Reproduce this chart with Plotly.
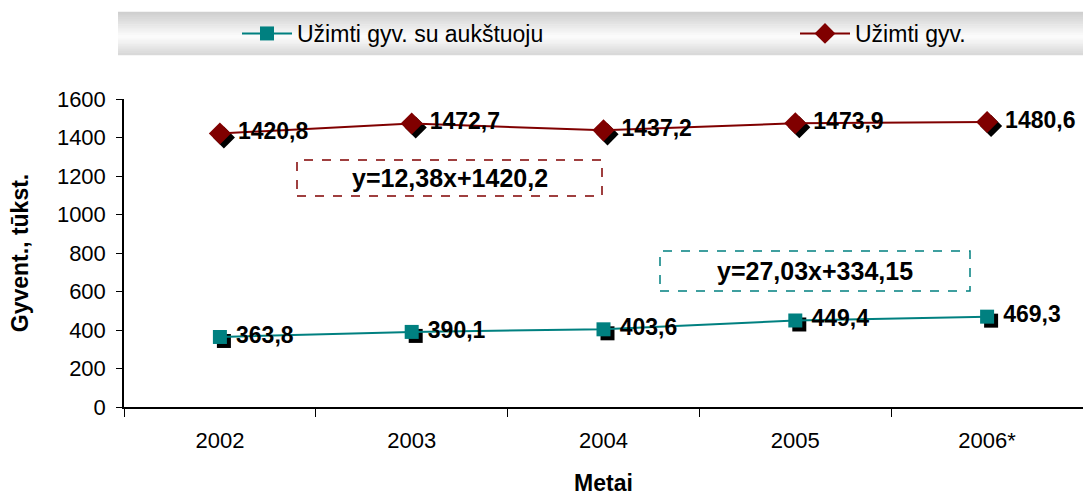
import plotly.graph_objects as go

years = ["2002", "2003", "2004", "2005", "2006*"]
grads = [363.8, 390.1, 403.6, 449.4, 469.3]
employed = [1420.8, 1472.7, 1437.2, 1473.9, 1480.6]
grads_labels = ["363,8", "390,1", "403,6", "449,4", "469,3"]
employed_labels = ["1420,8", "1472,7", "1437,2", "1473,9", "1480,6"]
name_grads = "Užimti gyv. su aukštuoju"
name_emp = "Užimti gyv."
eq_emp = "y=12,38x+1420,2"
eq_grads = "y=27,03x+334,15"
y_range = [0, 1600]

W, H = 1083, 496
ML, MR, MT, MB = 124, 0, 99, 89
PW = W - ML - MR
PH = H - MT - MB
SHX, SHY = 4, 4  # shadow offset in px
dx = SHX * len(years) / PW
dy = SHY * (y_range[1] - y_range[0]) / PH

TEAL = "#008080"
MAROON = "#800000"
FONT = "Liberation Sans, Arial, sans-serif"
PAD = "\u00a0"

def px_x(p):
    return (p - ML) / PW

def py(p):
    return (H - MB - p) / PH

fig = go.Figure()

# shadows on base (hidden) axes
fig.add_trace(go.Scatter(x=years, y=grads, mode="markers", xaxis="x", yaxis="y",
                         marker=dict(symbol="square", size=14, color="black"),
                         showlegend=False, hoverinfo="skip"))
fig.add_trace(go.Scatter(x=years, y=employed, mode="markers", xaxis="x", yaxis="y",
                         marker=dict(symbol="diamond", size=17, color="black"),
                         showlegend=False, hoverinfo="skip"))

# main series on visible overlay axes
fig.add_trace(go.Scatter(x=years, y=grads, name=name_grads, mode="lines+markers+text",
                         xaxis="x2", yaxis="y2", legend="legend",
                         line=dict(color=TEAL, width=2),
                         marker=dict(symbol="square", size=14, color=TEAL),
                         text=[PAD + t for t in grads_labels], textposition="middle right",
                         textfont=dict(family=FONT, size=23, color="black", weight="bold")))
fig.add_trace(go.Scatter(x=years, y=employed, name=name_emp, mode="lines+markers+text",
                         xaxis="x2", yaxis="y2", legend="legend2",
                         line=dict(color=MAROON, width=2),
                         marker=dict(symbol="diamond", size=17, color=MAROON),
                         text=[PAD + t for t in employed_labels], textposition="middle right",
                         textfont=dict(family=FONT, size=23, color="black", weight="bold")))

# legend gradient background (stacked bands)
top_px, bot_px, mid_px = 12, 55, 37
n = 24
dark_top, dark_bot = 205, 215
for i in range(n):
    a = top_px + (bot_px - top_px) * i / n
    b = top_px + (bot_px - top_px) * (i + 1) / n
    c = (a + b) / 2
    if c < mid_px:
        t = (c - top_px) / (mid_px - top_px)
        g = dark_top + (253 - dark_top) * t
    else:
        t = (c - mid_px) / (bot_px - mid_px)
        g = 253 + (dark_bot - 253) * t
    g = int(round(g))
    fig.add_shape(type="rect", xref="paper", yref="paper", x0=px_x(118), x1=1.0,
                  y0=py(b) - 0.001, y1=py(a) + 0.001, line=dict(width=0),
                  fillcolor=f"rgb({g},{g},{g})", layer="below")

# equation boxes
def box(x0, x1, y0, y1, color, text):
    fig.add_shape(type="rect", xref="paper", yref="paper",
                  x0=px_x(x0), x1=px_x(x1), y0=py(y1), y1=py(y0),
                  line=dict(color=color, width=1.5, dash="dash"))
    fig.add_annotation(xref="paper", yref="paper", x=px_x((x0 + x1) / 2),
                       y=py((y0 + y1) / 2), xanchor="center", yanchor="middle",
                       text=f"<b>{text}</b>", showarrow=False,
                       font=dict(family=FONT, size=25, color="black"))

box(297, 602, 160, 196, MAROON, eq_emp)
box(660, 970, 251, 291, TEAL, eq_grads)

leg_common = dict(orientation="h", xanchor="left", yanchor="middle",
                  bgcolor="rgba(0,0,0,0)", itemwidth=50,
                  font=dict(family=FONT, size=23, color="black"))

fig.update_layout(
    width=W, height=H,
    margin=dict(l=ML, r=MR, t=MT, b=MB, autoexpand=False),
    paper_bgcolor="white", plot_bgcolor="white",
    font=dict(family=FONT, size=22, color="black"),
    showlegend=True,
    legend=dict(x=px_x(237), y=py(33.5), **leg_common),
    legend2=dict(x=px_x(795), y=py(33.5), **leg_common),
    xaxis=dict(type="category", range=[-0.5 - dx, len(years) - 0.5 - dx],
               visible=False, fixedrange=True),
    yaxis=dict(range=[y_range[0] + dy, y_range[1] + dy], visible=False),
    xaxis2=dict(type="category", overlaying="x", range=[-0.5, len(years) - 0.5],
                showline=True, linecolor="black", linewidth=1.5,
                ticks="outside", tickson="boundaries", ticklen=8, tickcolor="black",
                showgrid=False, zeroline=False, ticklabelstandoff=13,
                tickfont=dict(family=FONT, size=22),
                title=dict(text="<b>Metai</b>", font=dict(family=FONT, size=23), standoff=26)),
    yaxis2=dict(overlaying="y", range=y_range, dtick=200,
                showline=True, linecolor="black", linewidth=1.5,
                ticks="outside", ticklen=6, tickcolor="black",
                showgrid=False, zeroline=False, ticklabelstandoff=6,
                tickfont=dict(family=FONT, size=22),
                title=dict(text="<b>Gyvent., tūkst.</b>", font=dict(family=FONT, size=23), standoff=22)),
)

fig.write_html("out.html", config={"displayModeBar": False},
               post_script="document.body.style.margin='0';document.body.style.overflow='hidden';")
